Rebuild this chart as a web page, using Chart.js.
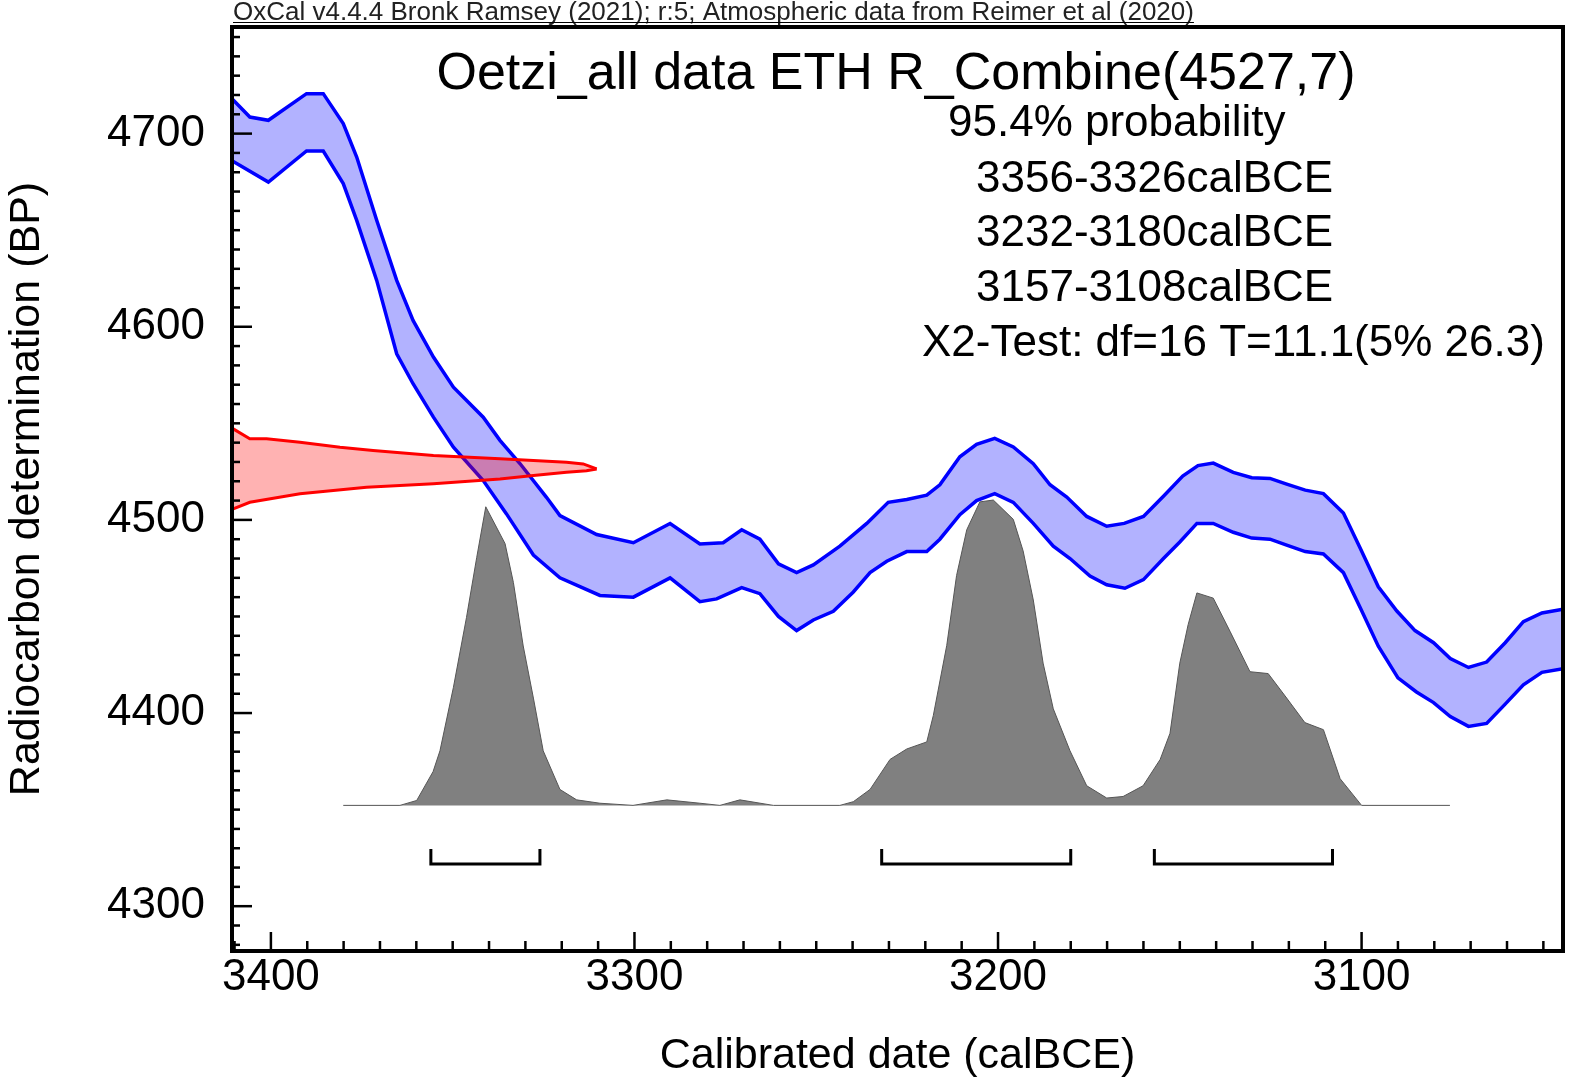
<!DOCTYPE html>
<html>
<head>
<meta charset="utf-8">
<title>Oetzi_all data ETH R_Combine(4527,7)</title>
<script src="https://cdn.jsdelivr.net/npm/chart.js@4.4.1/dist/chart.umd.min.js"></script>
<style>
  html, body { margin: 0; padding: 0; background: #fff; }
  #wrap { width: 1575px; height: 1087px; position: relative; }
</style>
</head>
<body>
<div id="wrap"><canvas id="oxcal"></canvas></div>
<script>
"use strict";

// calibration curve (IntCal20), upper and lower 1-sigma envelope
var curveUpperYear = [3410.7, 3405.8, 3400.7, 3390.2, 3385.6, 3380.1, 3376.4, 3370.9, 3365.4, 3360.9,
  3355.3, 3349.8, 3341.6, 3337.0, 3331.5, 3324.2, 3320.5, 3310.4, 3300.3, 3290.2,
  3282.0, 3275.6, 3270.5, 3265.5, 3260.4, 3255.4, 3250.8, 3243.5, 3236.1, 3230.2,
  3225.1, 3219.6, 3216.0, 3210.5, 3205.9, 3200.9, 3195.8, 3190.3, 3185.7, 3181.1,
  3175.6, 3170.1, 3165.3, 3160.0, 3154.5, 3149.2, 3145.0, 3140.8, 3135.3, 3130.2,
  3125.2, 3120.6, 3115.5, 3110.5, 3105.0, 3100.4, 3095.4, 3090.3, 3085.3, 3080.2,
  3075.6, 3070.6, 3065.6, 3060.5, 3055.5, 3050.4, 3044.6];
var curveUpperBP = [4718.0, 4708.6, 4706.9, 4720.7, 4720.7, 4705.2, 4687.9, 4655.1, 4624.0, 4603.3,
  4584.3, 4568.7, 4553.2, 4541.2, 4529.2, 4511.7, 4502.2, 4492.4, 4488.2, 4498.1,
  4487.5, 4488.2, 4494.9, 4490.0, 4477.3, 4472.7, 4476.7, 4486.4, 4498.2, 4509.1,
  4510.6, 4512.8, 4518.2, 4532.7, 4539.1, 4542.2, 4537.8, 4529.1, 4518.2, 4511.8,
  4501.8, 4496.7, 4498.2, 4501.8, 4512.3, 4522.7, 4528.1, 4529.4, 4524.6, 4521.8,
  4521.5, 4518.5, 4515.4, 4513.6, 4503.6, 4485.4, 4465.4, 4452.8, 4442.7, 4436.4,
  4428.2, 4423.6, 4426.4, 4436.4, 4447.3, 4451.8, 4453.8];

var curveLowerYear = [3410.7, 3400.7, 3390.2, 3385.6, 3380.1, 3376.4, 3370.9, 3365.4, 3360.9, 3355.3,
  3349.8, 3341.6, 3335.2, 3327.8, 3320.5, 3309.5, 3300.3, 3290.2, 3282.0, 3277.4,
  3270.5, 3265.5, 3260.4, 3255.4, 3250.8, 3245.3, 3239.8, 3235.2, 3230.6, 3225.1,
  3219.6, 3216.0, 3210.5, 3205.9, 3200.9, 3195.8, 3190.3, 3184.8, 3180.2, 3174.7,
  3170.1, 3165.1, 3160.0, 3154.5, 3150.0, 3145.3, 3140.8, 3135.3, 3130.2, 3125.2,
  3120.6, 3115.5, 3110.5, 3105.0, 3100.4, 3095.4, 3090.0, 3084.9, 3080.2, 3075.6,
  3070.6, 3065.6, 3060.5, 3055.5, 3050.4, 3044.6];
var curveLowerBP = [4686.0, 4674.9, 4691.0, 4691.0, 4674.1, 4655.1, 4624.0, 4586.0, 4570.5, 4553.2,
  4537.6, 4520.4, 4503.1, 4481.8, 4470.0, 4460.9, 4460.0, 4470.0, 4457.7, 4459.1,
  4464.9, 4461.8, 4450.0, 4442.7, 4448.2, 4452.7, 4462.7, 4472.7, 4478.6, 4483.6,
  4483.6, 4490.0, 4502.7, 4510.0, 4513.6, 4509.1, 4498.2, 4486.4, 4480.0, 4470.9,
  4466.4, 4464.6, 4469.1, 4480.0, 4488.6, 4498.2, 4498.2, 4493.6, 4490.6, 4490.0,
  4486.9, 4483.6, 4482.4, 4472.7, 4454.6, 4434.6, 4418.2, 4410.9, 4405.4, 4398.2,
  4393.1, 4394.6, 4404.6, 4414.6, 4421.1, 4422.9];

// R_Combine(4527,7) likelihood, drawn sideways from the y axis
var likeUpperYear = [3410.7, 3405.8, 3401.2, 3392.0, 3381.0, 3371.9, 3355.3, 3337.0, 3327.8, 3318.7, 3314.1, 3310.4];
var likeUpperBP = [4547.5, 4542.0, 4542.0, 4540.2, 4537.6, 4535.9, 4533.3, 4531.6, 4530.7, 4529.8, 4529.0, 4526.4];
var likeLowerYear = [3410.7, 3405.8, 3392.0, 3373.7, 3355.3, 3337.0, 3327.8, 3318.7, 3313.2, 3310.4];
var likeLowerBP = [4505.5, 4509.1, 4513.5, 4516.9, 4518.7, 4521.2, 4523.0, 4524.7, 4525.5, 4526.4];

// calibrated probability (relative, 100 = tallest bin)
var postYear = [3380.1, 3364.5, 3359.9, 3355.4, 3353.5, 3349.8, 3346.2, 3343.4, 3340.9, 3335.6,
  3333.3, 3330.6, 3327.8, 3325.1, 3320.5, 3315.9, 3309.5, 3300.4, 3291.1, 3282.0,
  3276.5, 3271.0, 3261.8, 3243.5, 3239.8, 3235.2, 3229.7, 3225.1, 3219.6, 3217.8,
  3214.1, 3211.4, 3208.6, 3205.0, 3201.3, 3195.8, 3193.1, 3190.3, 3187.6, 3184.8,
  3180.2, 3175.6, 3170.1, 3165.6, 3160.1, 3155.4, 3152.7, 3150.0, 3147.7, 3145.3,
  3140.8, 3136.2, 3130.7, 3125.7, 3120.6, 3115.6, 3110.5, 3105.9, 3100.0, 3075.7];
var postProb = [0, 0, 1.6, 11, 17.8, 38.5, 61.3, 80.8, 97.4, 85.4,
  72.7, 52, 35, 17.8, 5.2, 1.8, 0.7, 0, 1.8, 0.7,
  0, 1.8, 0, 0, 1.2, 5.2, 15, 18.4, 20.7, 29.3,
  52.2, 75, 89.9, 99, 99.6, 93.3, 83, 67, 46.4, 31.5,
  17.8, 6.4, 2.4, 2.9, 6.4, 15, 23.5, 46.4, 59, 69.3,
  67.6, 56.8, 43.6, 43, 35, 27, 24.7, 8.7, 0, 0];

// 95.4% ranges
var rangeFrom = [3356, 3232, 3157];
var rangeTo = [3326, 3180, 3108];

var xTicks = [3400, 3300, 3200, 3100];
var yTicks = [4300, 4400, 4500, 4600, 4700];

var headerText = 'OxCal v4.4.4 Bronk Ramsey (2021); r:5; Atmospheric data from Reimer et al (2020)';
var titleText = 'Oetzi_all data ETH R_Combine(4527,7)';
var infoLines = ['95.4% probability', '3356-3326calBCE', '3232-3180calBCE', '3157-3108calBCE',
  'X2-Test: df=16 T=11.1(5% 26.3)'];

var FONT = '"Liberation Sans", Arial, Helvetica, sans-serif';

function pairs(xs, ys) {
  return xs.map(function (v, i) { return { x: v, y: ys[i] }; });
}

function bracket(a, b) {
  // hanging bracket under the distribution, in probability units
  return [{ x: a, y: -14.2 }, { x: a, y: -19.1 }, { x: b, y: -19.1 }, { x: b, y: -14.2 }];
}

var datasets = [
  {
    data: pairs(likeUpperYear, likeUpperBP),
    borderColor: '#ff0000', borderWidth: 3,
    backgroundColor: 'rgba(255,0,0,0.3)', fill: '+1'
  },
  {
    data: pairs(likeLowerYear, likeLowerBP),
    borderColor: '#ff0000', borderWidth: 3, fill: false
  },
  {
    data: pairs(curveUpperYear, curveUpperBP),
    borderColor: '#0000ff', borderWidth: 3.5,
    backgroundColor: 'rgba(0,0,255,0.3)', fill: '+1'
  },
  {
    data: pairs(curveLowerYear, curveLowerBP),
    borderColor: '#0000ff', borderWidth: 3.5, fill: false
  },
  {
    data: pairs(postYear, postProb), yAxisID: 'yp',
    borderColor: '#555555', borderWidth: 1,
    backgroundColor: '#808080', fill: 'origin'
  }
];
rangeFrom.forEach(function (a, i) {
  datasets.push({
    data: bracket(a, rangeTo[i]), yAxisID: 'yp',
    borderColor: '#000', borderWidth: 3, fill: false, borderJoinStyle: 'miter'
  });
});

var oxcalFrame = {
  id: 'oxcalFrame',
  afterDraw: function (chart) {
    var c = chart.ctx, a = chart.chartArea;
    var x = chart.scales.x, y = chart.scales.y;
    c.save();
    c.strokeStyle = '#000';
    c.lineWidth = 2.5;
    // inward ticks, minor every 10
    for (var v = Math.ceil(x.min / 10) * 10; v <= x.max; v += 10) {
      var px = x.getPixelForValue(v);
      var len = v % 100 === 0 ? 19 : 10;
      c.beginPath(); c.moveTo(px, a.bottom); c.lineTo(px, a.bottom - len); c.stroke();
    }
    for (v = Math.ceil(y.min / 10) * 10; v <= y.max; v += 10) {
      var py = y.getPixelForValue(v);
      len = v % 100 === 0 ? 20 : 8;
      c.beginPath(); c.moveTo(a.left, py); c.lineTo(a.left + len, py); c.stroke();
    }
    c.lineWidth = 4;
    c.strokeRect(a.left, a.top, a.right - a.left, a.bottom - a.top);

    // header
    c.fillStyle = '#222';
    c.font = '26px ' + FONT;
    c.textBaseline = 'alphabetic';
    c.textAlign = 'left';
    c.fillText(headerText, 233, 20);
    var w = c.measureText(headerText).width;
    c.lineWidth = 1.2;
    c.beginPath(); c.moveTo(233, 22.5); c.lineTo(233 + w, 22.5); c.stroke();

    c.fillStyle = '#000';
    c.font = '52px ' + FONT;
    c.textAlign = 'center';
    c.fillText(titleText, 896, 89);

    c.font = '44px ' + FONT;
    c.textAlign = 'left';
    var lx = [948, 976, 976, 976, 922];
    var ly = [136, 192, 246, 301, 356];
    infoLines.forEach(function (t, i) { c.fillText(t, lx[i], ly[i]); });
    c.restore();
  }
};

Chart.defaults.color = '#000';

var ctx = document.getElementById('oxcal');
var myChart = new Chart(ctx, {
  type: 'line',
  data: { datasets: datasets },
  options: {
    responsive: true,
    maintainAspectRatio: false,
    animation: false,
    layout: { padding: { top: 27, right: 12, left: 0, bottom: 0 } },
    plugins: { legend: { display: false }, tooltip: { enabled: false } },
    elements: { point: { radius: 0 }, line: { tension: 0 } },
    scales: {
      x: {
        type: 'linear', reverse: true, min: 3044.6, max: 3410.7,
        afterFit: function (s) { s.height = 136; s.paddingLeft = 0; s.paddingRight = 0; },
        afterBuildTicks: function (s) { s.ticks = xTicks.map(function (v) { return { value: v }; }); },
        grid: { display: false, drawTicks: false },
        border: { display: false },
        ticks: {
          padding: 0, maxRotation: 0, autoSkip: false,
          font: { family: FONT, size: 44 },
          callback: function (v) { return String(v); }
        },
        title: {
          display: true, text: 'Calibrated date (calBCE)',
          font: { family: FONT, size: 43 }, padding: { top: 0, bottom: 5 }
        }
      },
      y: {
        type: 'linear', position: 'left', min: 4276.8, max: 4755.2,
        afterFit: function (s) { s.width = 232; s.paddingTop = 0; s.paddingBottom = 0; },
        afterBuildTicks: function (s) { s.ticks = yTicks.map(function (v) { return { value: v }; }); },
        grid: { display: false, drawTicks: false },
        border: { display: false },
        ticks: {
          padding: 27, autoSkip: false,
          font: { family: FONT, size: 44 },
          callback: function (v) { return String(v); }
        },
        title: {
          display: true, text: 'Radiocarbon determination (BP)',
          font: { family: FONT, size: 43 }, padding: { top: 1, bottom: 0 }
        }
      },
      yp: { type: 'linear', display: false, min: -47.5, max: 253.9 }
    }
  },
  plugins: [oxcalFrame]
});
</script>
</body>
</html>
